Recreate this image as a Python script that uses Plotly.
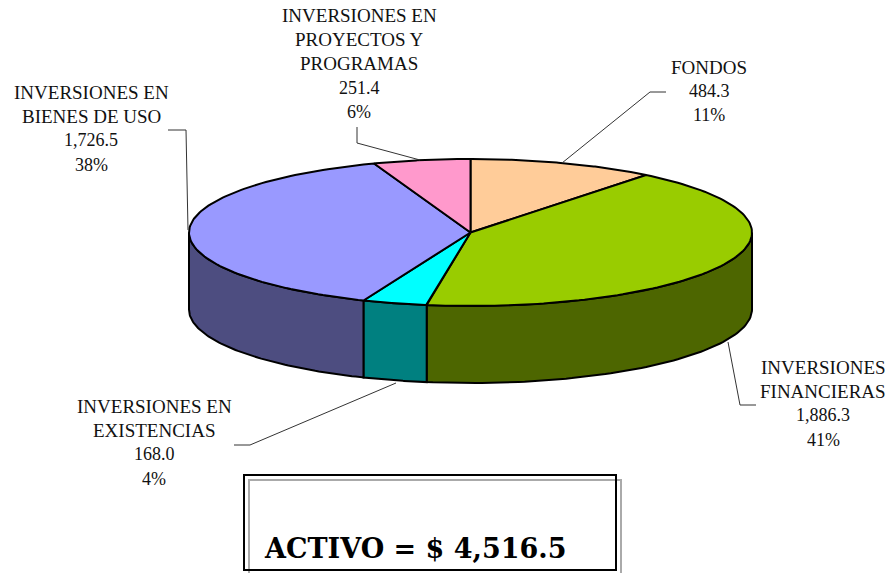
import numpy as np
import plotly.graph_objects as go

names = [["FONDOS"], ["INVERSIONES", "FINANCIERAS"], ["INVERSIONES EN", "EXISTENCIAS"],
         ["INVERSIONES EN", "BIENES DE USO"], ["INVERSIONES EN", "PROYECTOS Y", "PROGRAMAS"]]
values = [484.3, 1886.3, 168.0, 1726.5, 251.4]
percents = ["11%", "41%", "4%", "38%", "6%"]
top_colors = ["#FFCC99", "#99CC00", "#00FFFF", "#9999FF", "#FF99CC"]
side_colors = ["#80664D", "#4D6600", "#008080", "#4D4D80", "#804D66"]
total_label = "ACTIVO = $ 4,516.5"

CX, CY, RX, RY, DEPTH = 470.5, 232.5, 281.5, 73.5, 77
label_pos = [(709, 67), (823, 367), (154, 406), (91, 92), (359, 15)]
LINE_STEP = 24.2
leaders = [
    ([666, 650, 562], [92, 92, 163]),
    ([728, 740, 756], [342, 405, 405]),
    ([396, 250, 234], [383, 445, 445]),
    ([168, 186, 188], [130, 130, 230]),
    ([357, 357, 420], [127, 143, 160]),
]

def pt(deg, dy=0.0):
    a = np.radians(deg)
    return CX + RX * np.sin(a), CY - RY * np.cos(a) + dy

fig = go.Figure()
fracs = np.array(values) / sum(values) * 360
edges = np.concatenate([[0], np.cumsum(fracs)])

# side walls (only the front half of the ellipse is visible)
for i in range(len(values)):
    lo, hi = max(edges[i], 90), min(edges[i + 1], 270)
    if hi <= lo:
        continue
    t = np.linspace(lo, hi, 80)
    x1, y1 = pt(t)
    x2, y2 = pt(t[::-1], DEPTH)
    fig.add_trace(go.Scatter(x=np.r_[x1, x2, x1[0]], y=np.r_[y1, y2, y1[0]], mode="lines",
                             fill="toself", fillcolor=side_colors[i],
                             line=dict(color="black", width=2), hoverinfo="skip"))
# top face
for i in range(len(values)):
    t = np.linspace(edges[i], edges[i + 1], 120)
    x1, y1 = pt(t)
    fig.add_trace(go.Scatter(x=np.r_[CX, x1, CX], y=np.r_[CY, y1, CY], mode="lines",
                             fill="toself", fillcolor=top_colors[i],
                             line=dict(color="black", width=2), hoverinfo="skip"))
# leader lines
for lx, ly in leaders:
    fig.add_trace(go.Scatter(x=lx, y=ly, mode="lines", line=dict(color="#333333", width=1),
                             hoverinfo="skip"))

# labels
for i, (cx, y0) in enumerate(label_pos):
    lines = names[i] + [f"{values[i]:,.1f}", percents[i]]
    for j, s in enumerate(lines):
        size = 19 if j < len(names[i]) else 18
        fig.add_annotation(x=cx, y=y0 + j * LINE_STEP, text=s, showarrow=False, xref="x", yref="y",
                           xanchor="center", yanchor="middle",
                           font=dict(family="Liberation Serif", size=size, color="#111111"))

# total box
fig.add_shape(type="rect", x0=249, y0=480, x1=621, y1=600, line=dict(color="#AAAAAA", width=2))
fig.add_shape(type="rect", x0=244, y0=475, x1=616, y1=570, line=dict(color="black", width=2))
fig.add_annotation(x=262, y=548, text=f"<b>{total_label}</b>", showarrow=False, xref="x", yref="y",
                   xanchor="left", yanchor="middle",
                   font=dict(family="DejaVu Serif", size=27, color="black"))

fig.update_layout(width=888, height=573, margin=dict(l=0, r=0, t=0, b=0), showlegend=False,
                  paper_bgcolor="white", plot_bgcolor="white",
                  xaxis=dict(range=[0, 888], visible=False, fixedrange=True),
                  yaxis=dict(range=[573, 0], visible=False, fixedrange=True))
fig.write_html("out.html", config={"displayModeBar": False},
               post_script="document.body.style.margin='0';document.body.style.overflow='hidden';")
